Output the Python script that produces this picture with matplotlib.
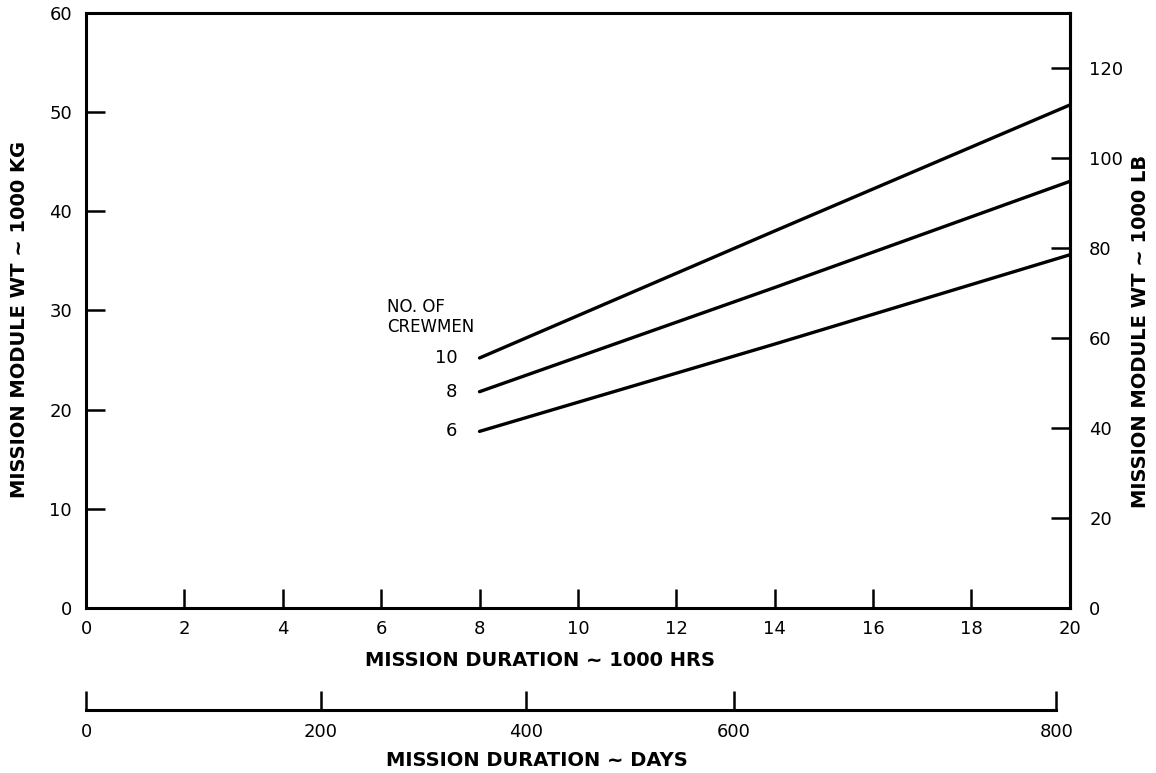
import numpy as np
import matplotlib.pyplot as plt

# mission duration (1000 hrs) and module weight (1000 kg)
duration_khrs = [8, 14, 20]
wt_10_crew = [25.2, 38.0, 50.7]
wt_8_crew = [21.8, 32.3, 43.0]
wt_6_crew = [17.8, 26.6, 35.6]

crew_labels = ['10', '8', '6']

# the days scale is hand drawn, so its ticks are not evenly spaced in hours
day_ticks = [0, 200, 400, 600, 800]
day_tick_khrs = [0, 4.78, 8.94, 13.17, 19.73]

KG_TO_LB = 2.20462

plt.rcParams['font.family'] = 'DejaVu Sans'

fig = plt.figure(figsize=(11.56, 7.73), dpi=100)
left, bottom, width, height = 0.0744, 0.2135, 0.851, 0.770
ax = fig.add_axes([left, bottom, width, height])

for wt in (wt_10_crew, wt_8_crew, wt_6_crew):
    ax.plot(duration_khrs, wt, color='black', lw=2.4, solid_capstyle='round')

ax.set_xlim(0, 20)
ax.set_ylim(0, 60)
ax.set_xticks(range(0, 21, 2))
ax.set_yticks(range(0, 61, 10))
for s in ax.spines.values():
    s.set_linewidth(2.2)
ax.tick_params(axis='both', direction='in', length=14, width=1.8,
               labelsize=13, pad=10)
ax.tick_params(axis='x', pad=9)

ax.set_xlabel('MISSION DURATION ~ 1000 HRS', fontsize=14, fontweight='bold')
ax.xaxis.set_label_coords(0.461, -0.072)
ax.set_ylabel('MISSION MODULE WT ~ 1000 KG', fontsize=14, fontweight='bold')
ax.yaxis.set_label_coords(-0.058, 0.484)

# right axis in pounds
ax_lb = ax.secondary_yaxis('right', functions=(lambda k: k * KG_TO_LB,
                                                lambda p: p / KG_TO_LB))
ax_lb.set_yticks(range(0, 121, 20))
ax_lb.spines['right'].set_linewidth(2.2)
ax_lb.tick_params(direction='in', length=14, width=1.8, labelsize=13, pad=14)
ax.text(1.072, 0.464, 'MISSION MODULE WT ~ 1000 LB', transform=ax.transAxes,
        fontsize=14, fontweight='bold', rotation=90, ha='center', va='center')

# crew labels
ax.text(6.12, 30.3, 'NO. OF', fontsize=12, ha='left', va='center')
ax.text(6.12, 28.3, 'CREWMEN', fontsize=12, ha='left', va='center')
for lab, wt in zip(crew_labels, (wt_10_crew, wt_8_crew, wt_6_crew)):
    ax.text(duration_khrs[0] - 0.45, wt[0], lab, fontsize=13,
            ha='right', va='center')

# days scale below
ax_d = fig.add_axes([left, 0.0815, width, 0.0001])
ax_d.set_xlim(0, 20)
ax_d.set_ylim(0, 1)
for side in ('left', 'right', 'top'):
    ax_d.spines[side].set_visible(False)
ax_d.spines['bottom'].set_linewidth(2.2)
ax_d.spines['bottom'].set_bounds(day_tick_khrs[0], day_tick_khrs[-1])
ax_d.set_yticks([])
ax_d.set_xticks(day_tick_khrs)
ax_d.set_xticklabels([str(d) for d in day_ticks])
ax_d.tick_params(axis='x', direction='in', length=14, width=1.8,
                 labelsize=13, pad=9)
fig.text((537 / 1156), 1 - 760 / 773, 'MISSION DURATION ~ DAYS', fontsize=14,
         fontweight='bold', ha='center', va='center')

fig.savefig('out.png', dpi=100)
